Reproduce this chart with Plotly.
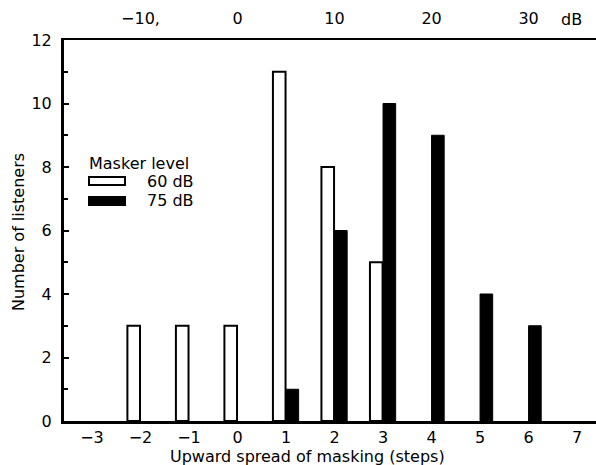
import plotly.graph_objects as go

steps = [-3, -2, -1, 0, 1, 2, 3, 4, 5, 6, 7]
listeners_60 = [None, 3, 3, 3, 11, 8, 5, None, None, None, None]
listeners_75 = [None, None, None, None, 1, 6, 10, 9, 4, 3, None]
top_db = [-10, 0, 10, 20, 30]
top_labels = ["\u221210,", "0", "10", "20", "30"]
y_ticks = [0, 2, 4, 6, 8, 10, 12]

FONT = "DejaVu Sans"
FS = 16

fig = go.Figure()
fig.add_trace(go.Bar(x=steps, y=listeners_60, name="60 dB", offset=-0.27, width=0.26,
                     marker=dict(color="white", line=dict(color="black", width=2)),
                     showlegend=False))
fig.add_trace(go.Bar(x=steps, y=listeners_75, name="75 dB", offset=0.0, width=0.26,
                     marker=dict(color="black", line=dict(color="black", width=1)),
                     showlegend=False))
# invisible trace for top axis
fig.add_trace(go.Scatter(x=[d / 5 for d in top_db], y=[0] * len(top_db), xaxis="x2",
                         mode="markers", marker=dict(opacity=0), showlegend=False, hoverinfo="skip"))

xr = [-3.577, 7.39]
fig.update_layout(
    width=596, height=465,
    margin=dict(l=64, r=0, t=40, b=44),
    paper_bgcolor="white", plot_bgcolor="white",
    font=dict(family=FONT, size=FS, color="black"),
    xaxis=dict(range=xr, tickvals=steps, ticktext=[str(s).replace("-", "\u2212") for s in steps],
               showline=True, linecolor="black", linewidth=3, ticks="", showgrid=False,
               zeroline=False, tickfont=dict(size=FS), automargin=False, ticklabelstandoff=0),
    xaxis2=dict(range=xr, overlaying="x", side="top", tickvals=[d / 5 for d in top_db],
                ticktext=top_labels, showline=True, linecolor="black", linewidth=2,
                ticks="", showgrid=False, zeroline=False, tickfont=dict(size=FS),
                automargin=False, ticklabelstandoff=8),
    yaxis=dict(range=[0, 12], tickvals=y_ticks, showline=True, linecolor="black", linewidth=3,
               ticks="inside", ticklen=5, tickwidth=2, tickcolor="black", showgrid=False,
               zeroline=False, tickfont=dict(size=FS), automargin=False, ticklabelstandoff=6,
               minor=dict(tickvals=[1, 3, 5, 7, 9, 11], ticks="inside", ticklen=4, tickwidth=2,
                          tickcolor="black")),
)

W, H = 532, 381
def px(xp):
    return (xp - 64) / W
def py(yp):
    return (421 - yp) / H

# axis titles
fig.add_annotation(xref="paper", yref="paper", x=px(307), y=py(456), text="Upward spread of masking (steps)",
                   showarrow=False, xanchor="center", yanchor="middle", font=dict(size=FS))
fig.add_annotation(xref="paper", yref="paper", x=px(18), y=py(232), text="Number of listeners",
                   showarrow=False, xanchor="center", yanchor="middle", textangle=-90, font=dict(size=FS))
# dB unit on the top axis
fig.add_annotation(xref="x", yref="paper", x=6.88, y=py(19), text="dB",
                   showarrow=False, xanchor="center", yanchor="middle", font=dict(size=FS))

# legend drawn as shapes + text
fig.add_annotation(xref="paper", yref="paper", x=px(87), y=py(163), text="Masker level",
                   showarrow=False, xanchor="left", yanchor="middle")
for i, (lab, col) in enumerate([("60 dB", "white"), ("75 dB", "black")]):
    yc = 181 + i * 20
    fig.add_shape(type="rect", xref="paper", yref="paper",
                  x0=px(89), x1=px(125), y0=py(yc + 4), y1=py(yc - 4),
                  fillcolor=col, line=dict(color="black", width=2))
    fig.add_annotation(xref="paper", yref="paper", x=px(145), y=py(yc), text=lab,
                       showarrow=False, xanchor="left", yanchor="middle")

fig.write_html("out.html", config={"displayModeBar": False},
               post_script="document.body.style.margin='0';document.body.style.overflow='hidden';")
